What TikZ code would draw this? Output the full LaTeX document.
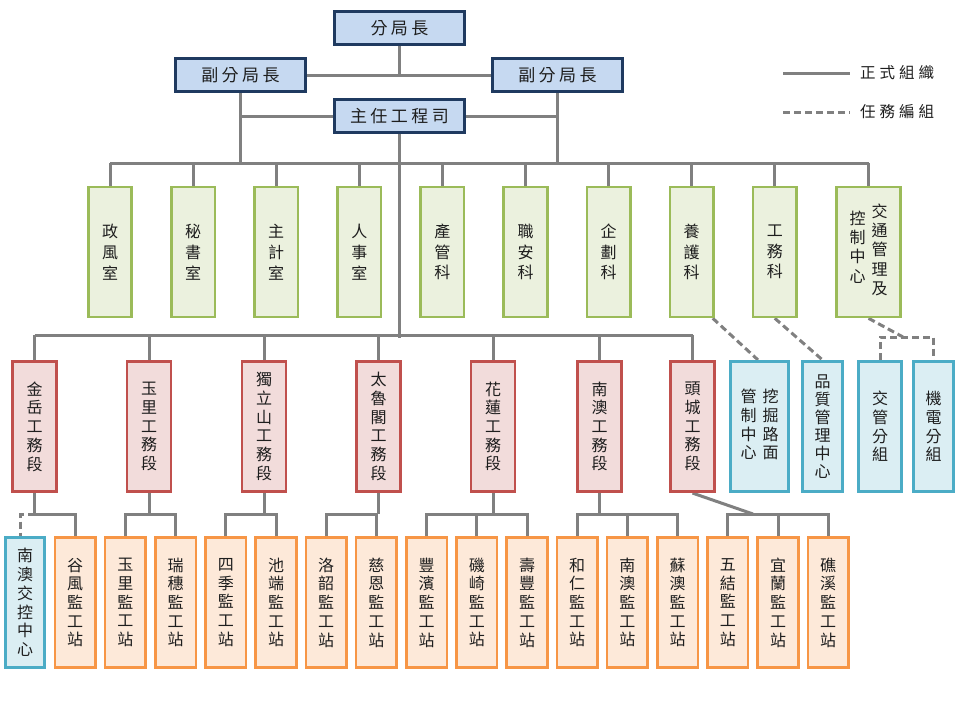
\documentclass[tikz,border=0pt]{standalone}
\usepackage{fontspec}
\setmainfont{Noto Sans CJK TC}
\usetikzlibrary{backgrounds}
\definecolor{txt}{HTML}{1E1E1E}
\definecolor{lineC}{HTML}{808080}
\definecolor{topD}{HTML}{1F3A60}
\definecolor{topF}{HTML}{C6D9F1}
\definecolor{grD}{HTML}{9BBB59}
\definecolor{grF}{HTML}{EBF1DE}
\definecolor{rdD}{HTML}{C0504D}
\definecolor{rdF}{HTML}{F2DCDB}
\definecolor{blD}{HTML}{4BACC6}
\definecolor{blF}{HTML}{DBEEF3}
\definecolor{orD}{HTML}{F79646}
\definecolor{orF}{HTML}{FDE9D9}
\begin{document}
\begin{tikzpicture}[x=1pt,y=-1pt,
  box/.style={line width=2.6pt, inner sep=0pt, align=center, text=txt, font=\fontsize{16}{18.7}\selectfont},
  topbox/.style={box, draw=topD, fill=topF, minimum width=130.5pt, minimum height=33.5pt, font=\fontsize{17}{20}\selectfont},
  grbox/.style={box, draw=grD, fill=grF, minimum width=43.5pt, minimum height=130pt, font=\fontsize{16}{20.8}\selectfont},
  rdbox/.style={box, draw=rdD, fill=rdF, minimum width=44pt, minimum height=130.5pt},
  blbox/.style={box, draw=blD, fill=blF, minimum height=130.5pt},
  orbox/.style={box, draw=orD, fill=orF, minimum width=40.5pt, minimum height=130.5pt},
  conn/.style={draw=lineC, line width=3pt},
  task/.style={conn, dash pattern=on 7pt off 4pt},
  legtext/.style={text=txt, inner sep=0pt, font=\fontsize{15.5}{18}\selectfont},
]
\useasboundingbox (0,0) rectangle (960,720);

% bus levels
\coordinate (busU) at (0,163);
\coordinate (busL) at (0,335);
\coordinate (busS) at (0,514);
\coordinate (mainEnd) at (0,338);

% top management
\node[topbox] (chief) at (399.5,28) {分\kern3.5pt 局\kern3.5pt 長};
\node[topbox] (depL) at (240.5,75) {副\kern3.5pt 分\kern3.5pt 局\kern3.5pt 長};
\node[topbox] (depR) at (557.5,75) {副\kern3.5pt 分\kern3.5pt 局\kern3.5pt 長};
\node[topbox] (eng) at (399.5,116) {主\kern3.5pt 任\kern3.5pt 工\kern3.5pt 程\kern3.5pt 司};

% green row
\node[grbox] (g1) at (110,252) {政\\風\\室};
\node[grbox] (g2) at (193.1,252) {秘\\書\\室};
\node[grbox] (g3) at (276.2,252) {主\\計\\室};
\node[grbox] (g4) at (359.3,252) {人\\事\\室};
\node[grbox] (g5) at (442.4,252) {產\\管\\科};
\node[grbox] (g6) at (525.5,252) {職\\安\\科};
\node[grbox] (g7) at (608.6,252) {企\\劃\\科};
\node[grbox] (g8) at (691.7,252) {養\\護\\科};
\node[grbox] (g9) at (774.8,252) {工\\務\\科};
\node[grbox, minimum width=63.5pt, font=\fontsize{16}{19.2}\selectfont] (g10) at (868.5,252)
  {\raisebox{-7pt}{\begin{tabular}[t]{@{}c@{}}控\\制\\中\\心\end{tabular}}\kern6pt\begin{tabular}[t]{@{}c@{}}交\\通\\管\\理\\及\end{tabular}};

% red row
\node[rdbox] (r1) at (34.5,426.5) {金\\岳\\工\\務\\段};
\node[rdbox] (r2) at (149,426.5) {玉\\里\\工\\務\\段};
\node[rdbox] (r3) at (264,426.5) {獨\\立\\山\\工\\務\\段};
\node[rdbox] (r4) at (378.5,426.5) {太\\魯\\閣\\工\\務\\段};
\node[rdbox] (r5) at (493,426.5) {花\\蓮\\工\\務\\段};
\node[rdbox] (r6) at (599.5,426.5) {南\\澳\\工\\務\\段};
\node[rdbox] (r7) at (692.5,426.5) {頭\\城\\工\\務\\段};

% blue task boxes
\node[blbox, minimum width=58.5pt] (b1) at (759.5,426.5)
  {\begin{tabular}[t]{@{}c@{}}管\\制\\中\\心\end{tabular}\kern6pt\begin{tabular}[t]{@{}c@{}}挖\\掘\\路\\面\end{tabular}};
\node[blbox, minimum width=40.5pt, font=\fontsize{16}{18}\selectfont] (b2) at (822.5,426.5) {品\\質\\管\\理\\中\\心};
\node[blbox, minimum width=43.5pt] (b3) at (880,426.5) {交\\管\\分\\組};
\node[blbox, minimum width=40.5pt] (b4) at (933.5,426.5) {機\\電\\分\\組};

% bottom row
\node[blbox, minimum width=39.5pt] (s0) at (25,602.5) {南\\澳\\交\\控\\中\\心};
\foreach \i/\a/\b in {1/谷/風,2/玉/里,3/瑞/穗,4/四/季,5/池/端,6/洛/韶,7/慈/恩,8/豐/濱,9/磯/崎,10/壽/豐,11/和/仁,12/南/澳,13/蘇/澳,14/五/結,15/宜/蘭,16/礁/溪}
  \node[orbox] (s\i) at ({25+50.2*\i},602.5) {\a\\\b\\監\\工\\站};

% legend
\coordinate (l1a) at (783,73);
\coordinate (l1b) at (850,73);
\coordinate (l2a) at (783,112);
\coordinate (l2b) at (850,112);
\draw[conn] (l1a) -- (l1b);
\draw[task] (l2a) -- (l2b);
\node[legtext] (lt1) at (897,73) {正\kern4pt 式\kern4pt 組\kern4pt 織};
\node[legtext] (lt2) at (897,112) {任\kern4pt 務\kern4pt 編\kern4pt 組};

\begin{pgfonlayer}{background}
\fill[white] (0,0) rectangle (960,720);
% top structure
\draw[conn] (depL.east) -- (depR.west);
\draw[conn] (chief.south) -- (chief.south |- depL.east);
\draw[conn] (depL.south) -- (depL.south |- busU);
\draw[conn] (depR.south) -- (depR.south |- busU);
\draw[conn] (depL.south |- eng.west) -- (depR.south |- eng.east);
\draw[conn] (eng.south) -- (eng.south |- mainEnd);
% upper bus
\draw[conn] (g1.north |- busU) -- (g10.north |- busU);
\foreach \n in {g1,g2,g3,g4,g5,g6,g7,g8,g9,g10}
  \draw[conn] (\n.north) -- (\n.north |- busU);
% lower bus
\draw[conn] (r1.north |- busL) -- (r7.north |- busL);
\foreach \n in {r1,r2,r3,r4,r5,r6,r7}
  \draw[conn] (\n.north) -- (\n.north |- busL);
% work sections to stations
\coordinate (kc) at (20,514);
\draw[conn] (r1.south) -- (r1.south |- busS) -- (s1.north |- busS) -- (s1.north);
\draw[task] (r1.south |- busS) -- (kc) -- (kc |- s0.north);
\draw[conn] (r2.south) -- (r2.south |- busS);
\draw[conn] (s2.north) -- (s2.north |- busS) -- (s3.north |- busS) -- (s3.north);
\draw[conn] (r3.south) -- (r3.south |- busS);
\draw[conn] (s4.north) -- (s4.north |- busS) -- (s5.north |- busS) -- (s5.north);
\draw[conn] (r4.south) -- (r4.south |- busS);
\draw[conn] (s6.north) -- (s6.north |- busS) -- (s7.north |- busS) -- (s7.north);
\draw[conn] (r5.south) -- (r5.south |- busS);
\draw[conn] (s8.north) -- (s8.north |- busS) -- (s10.north |- busS) -- (s10.north);
\draw[conn] (s9.north) -- (s9.north |- busS);
\draw[conn] (r6.south) -- (r6.south |- busS);
\draw[conn] (s11.north) -- (s11.north |- busS) -- (s13.north |- busS) -- (s13.north);
\draw[conn] (s12.north) -- (s12.north |- busS);
\coordinate (tc) at (753,514);
\draw[conn] (r7.south) -- (tc);
\draw[conn] (s14.north) -- (s14.north |- busS) -- (s16.north |- busS) -- (s16.north);
\draw[conn] (s15.north) -- (s15.north |- busS);
% task groups
\draw[task] ([xshift=-2pt]g8.south east) -- ([xshift=-1.5pt]b1.north);
\draw[task] (g9.south) -- (b2.north);
\coordinate (jc) at (903,337);
\draw[task] (g10.south) -- (jc);
\draw[task] (b3.north) -- (b3.north |- jc) -- (b4.north |- jc) -- (b4.north);
\end{pgfonlayer}
\end{tikzpicture}
\end{document}
